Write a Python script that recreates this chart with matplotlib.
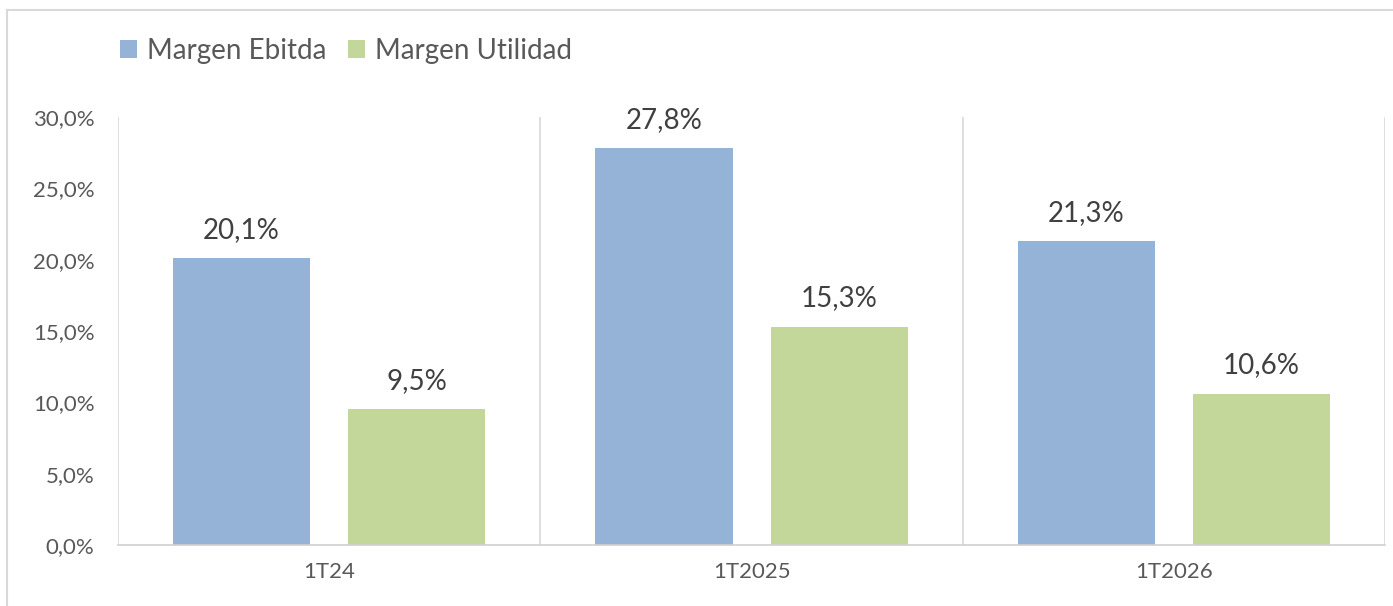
import matplotlib.pyplot as plt
import numpy as np
from matplotlib.lines import Line2D

# Data
periods = ["1T24", "1T2025", "1T2026"]
margen_ebitda = [20.1, 27.8, 21.3]
margen_utilidad = [9.5, 15.3, 10.6]
y_ticks = [0, 5, 10, 15, 20, 25, 30]

plt.rcParams["font.family"] = ["Lato", "DejaVu Sans"]

fig = plt.figure(figsize=(13.93, 6.06), dpi=100)
ax = fig.add_axes([0.0847, 0.1007, 0.9096, 0.7063])

x = np.arange(len(periods))
w = 0.325
off = 0.2075
blue = "#95B3D7"
green = "#C4D79B"
b1 = ax.bar(x - off, margen_ebitda, w, color=blue, label="Margen Ebitda")
b2 = ax.bar(x + off, margen_utilidad, w, color=green, label="Margen Utilidad")

for bars, vals in ((b1, margen_ebitda), (b2, margen_utilidad)):
    for rect, v in zip(bars, vals):
        ax.annotate(f"{v:.1f}%".replace(".", ","),
                    (rect.get_x() + rect.get_width() / 2, v),
                    xytext=(0, 11), textcoords="offset points",
                    ha="center", va="bottom", fontsize=20, color="#404040")

ax.set_xlim(-0.5, len(periods) - 0.5)
ax.set_ylim(0, 30)
ax.set_yticks(y_ticks)
ax.set_yticklabels([f"{t:.1f}%".replace(".", ",") for t in y_ticks])
ax.set_xticks(x)
ax.set_xticklabels(periods)
ax.tick_params(length=0, labelsize=16, colors="#595959")
ax.tick_params(axis="y", pad=17)
ax.tick_params(axis="x", pad=12)

# Category separators
for s in np.arange(-0.5, len(periods)):
    ax.axvline(s, color="#D9D9D9", lw=1.2, zorder=0)
for sp in ("top", "left", "right"):
    ax.spines[sp].set_visible(False)
ax.spines["bottom"].set_color("#D0D0D0")
ax.spines["bottom"].set_linewidth(1.2)

ax.legend(loc="lower left", bbox_to_anchor=(0.0765, 0.872), bbox_transform=fig.transFigure,
          ncol=2, frameon=False, fontsize=20, handlelength=0.6, handleheight=0.6,
          handletextpad=0.35, columnspacing=0.8, labelcolor="#595959", borderpad=0)

# Outer frame
fig.add_artist(Line2D([0.005, 1.0], [0.983, 0.983], transform=fig.transFigure, color="#D9D9D9", lw=1.5))
fig.add_artist(Line2D([0.005, 0.005], [0.0, 0.983], transform=fig.transFigure, color="#D9D9D9", lw=1.5))

fig.savefig("out.png", dpi=100)
